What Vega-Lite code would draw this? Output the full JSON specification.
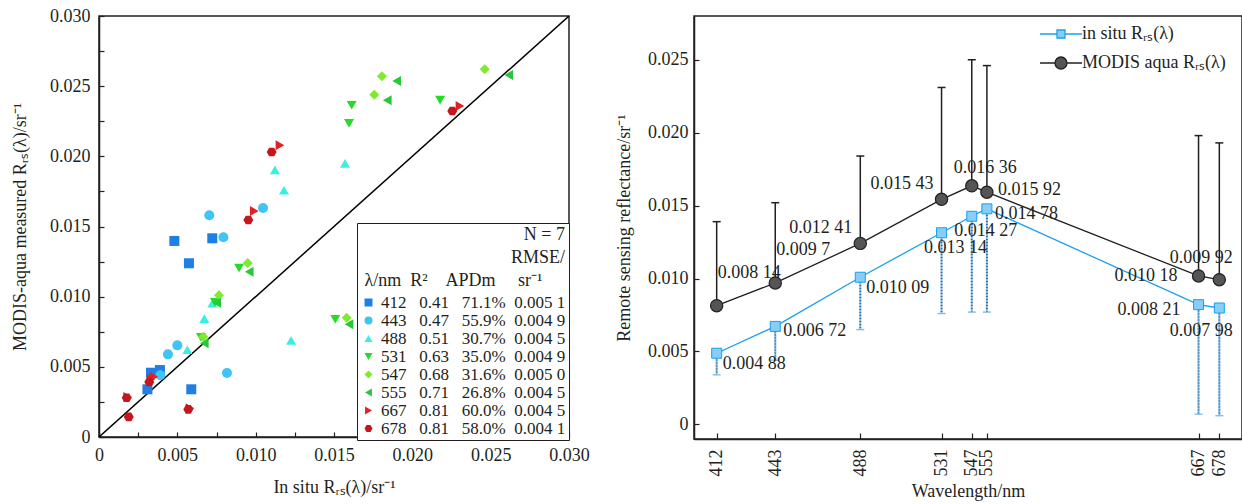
{
  "$schema": "https://vega.github.io/schema/vega-lite/v6.json",
  "background": "white",
  "padding": {"left": 10, "top": 6, "right": 0, "bottom": 0},
  "bounds": "flush",
  "spacing": 125,
  "resolve": {
    "scale": {"color": "independent", "shape": "independent", "fill": "independent", "stroke": "independent"},
    "legend": {"color": "independent", "shape": "independent", "fill": "independent", "stroke": "independent"}
  },
  "config": {
    "font": "Liberation Serif",
    "view": {"stroke": "#231f20", "strokeWidth": 1.5},
    "axis": {"labelFontSize": 18, "titleFontSize": 18, "labelColor": "#231f20", "titleColor": "#231f20", "domainColor": "#231f20", "tickColor": "#231f20", "domainWidth": 1.5, "tickWidth": 1.2, "grid": false, "labelFlush": false, "labelOverlap": false, "titleFontWeight": "normal", "labelFont": "Liberation Serif", "titleFont": "Liberation Serif"},
    "legend": {"labelFont": "Liberation Serif", "titleFont": "Liberation Serif", "labelColor": "#231f20", "titleColor": "#231f20", "titleFontWeight": "normal", "labelLimit": 400, "titleLimit": 400},
    "text": {"font": "Liberation Serif", "fontSize": 18, "color": "#231f20"}
  },
  "hconcat": [
    {
      "width": 470,
      "height": 421,
      "encoding": {
        "x": {"field": "x", "type": "quantitative", "title": "In situ Rᵣₛ(λ)/sr⁻¹",
          "scale": {"domain": [0, 0.03], "nice": false, "zero": false},
          "axis": {"values": [0, 0.0025, 0.005, 0.0075, 0.01, 0.0125, 0.015, 0.0175, 0.02, 0.0225, 0.025, 0.0275, 0.03],
            "labelExpr": "datum.value == 0 ? '0' : (abs(round(datum.value*10000) % 50) < 1 ? format(datum.value, '.3f') : '')",
            "tickSize": -5, "labelPadding": 14, "titlePadding": 14}},
        "y": {"field": "y", "type": "quantitative", "title": "MODIS-aqua measured Rᵣₛ(λ)/sr⁻¹",
          "scale": {"domain": [0, 0.03], "nice": false, "zero": false},
          "axis": {"values": [0, 0.0025, 0.005, 0.0075, 0.01, 0.0125, 0.015, 0.0175, 0.02, 0.0225, 0.025, 0.0275, 0.03],
            "labelExpr": "datum.value == 0 ? '0' : (abs(round(datum.value*10000) % 50) < 1 ? format(datum.value, '.3f') : '')",
            "tickSize": -5, "labelPadding": 14, "titlePadding": 20}}
      },
      "layer": [
        {
          "data": {"values": [{"x": 0, "y": 0}, {"x": 0.03, "y": 0.03}]},
          "mark": {"type": "line", "color": "#000000", "strokeWidth": 1.5, "clip": true}
        },
        {
          "data": {"values": [
            {"band": "412", "x": 0.00481, "y": 0.01397}, {"band": "412", "x": 0.00723, "y": 0.01416}, {"band": "412", "x": 0.00574, "y": 0.01238}, {"band": "412", "x": 0.00389, "y": 0.00477}, {"band": "412", "x": 0.00332, "y": 0.00458}, {"band": "412", "x": 0.00309, "y": 0.0034}, {"band": "412", "x": 0.00589, "y": 0.0034},
            {"band": "443", "x": 0.00704, "y": 0.0158}, {"band": "443", "x": 0.01047, "y": 0.01632}, {"band": "443", "x": 0.00794, "y": 0.01423}, {"band": "443", "x": 0.005, "y": 0.00653}, {"band": "443", "x": 0.0044, "y": 0.00589}, {"band": "443", "x": 0.00391, "y": 0.0044}, {"band": "443", "x": 0.00817, "y": 0.00456},
            {"band": "488", "x": 0.01123, "y": 0.01903}, {"band": "488", "x": 0.01181, "y": 0.01758}, {"band": "488", "x": 0.0157, "y": 0.0195}, {"band": "488", "x": 0.00723, "y": 0.00953}, {"band": "488", "x": 0.00672, "y": 0.00843}, {"band": "488", "x": 0.00564, "y": 0.00622}, {"band": "488", "x": 0.01226, "y": 0.00689},
            {"band": "531", "x": 0.01613, "y": 0.02364}, {"band": "531", "x": 0.01596, "y": 0.02235}, {"band": "531", "x": 0.02177, "y": 0.02401}, {"band": "531", "x": 0.00894, "y": 0.01204}, {"band": "531", "x": 0.01508, "y": 0.00839}, {"band": "531", "x": 0.00651, "y": 0.0071}, {"band": "531", "x": 0.0074, "y": 0.0096},
            {"band": "547", "x": 0.01806, "y": 0.0257}, {"band": "547", "x": 0.01757, "y": 0.02439}, {"band": "547", "x": 0.02462, "y": 0.0262}, {"band": "547", "x": 0.00949, "y": 0.0124}, {"band": "547", "x": 0.00766, "y": 0.0101}, {"band": "547", "x": 0.01581, "y": 0.0085}, {"band": "547", "x": 0.00666, "y": 0.00715},
            {"band": "555", "x": 0.019, "y": 0.02537}, {"band": "555", "x": 0.0184, "y": 0.024}, {"band": "555", "x": 0.02615, "y": 0.0258}, {"band": "555", "x": 0.00959, "y": 0.01178}, {"band": "555", "x": 0.00751, "y": 0.00957}, {"band": "555", "x": 0.01596, "y": 0.00803}, {"band": "555", "x": 0.00672, "y": 0.00668},
            {"band": "667", "x": 0.01155, "y": 0.02079}, {"band": "667", "x": 0.00991, "y": 0.0161}, {"band": "667", "x": 0.02304, "y": 0.02359}, {"band": "667", "x": 0.00183, "y": 0.00285}, {"band": "667", "x": 0.00332, "y": 0.00411}, {"band": "667", "x": 0.00581, "y": 0.00204}, {"band": "667", "x": 0.0035, "y": 0.0043},
            {"band": "678", "x": 0.01102, "y": 0.02031}, {"band": "678", "x": 0.00953, "y": 0.01546}, {"band": "678", "x": 0.02255, "y": 0.02323}, {"band": "678", "x": 0.00177, "y": 0.0028}, {"band": "678", "x": 0.0019, "y": 0.00143}, {"band": "678", "x": 0.00321, "y": 0.00392}, {"band": "678", "x": 0.0057, "y": 0.00197}
          ]},
          "mark": {"type": "point", "filled": true, "size": 100, "opacity": 1},
          "encoding": {
            "color": {"field": "band", "type": "nominal",
              "scale": {"domain": ["412", "443", "488", "531", "547", "555", "667", "678"], "range": ["#1f7fe6", "#3ec4f5", "#3aefe2", "#22dd22", "#80ea2c", "#25c93a", "#e62020", "#c4161c"]},
              "legend": {"orient": "none", "legendX": 258, "legendY": 207,
                "title": ["N = 7", "RMSE/", "λ/nm\u00a0\u00a0R²\u00a0\u00a0\u00a0\u00a0APDm\u00a0\u00a0\u00a0\u00a0\u00a0sr⁻¹\u00a0\u00a0\u00a0\u00a0\u00a0\u200b"],
                "titleAlign": "right", "titleAnchor": "end", "titleFontSize": 18, "titleLineHeight": 23, "titlePadding": 4,
                "labelFontSize": 17, "symbolSize": 64, "rowPadding": 0, "padding": 3, "labelOffset": 4,
                "strokeColor": "#231f20", "fillColor": "white",
                "labelExpr": "['412\u00a0\u00a0\u00a00.41\u00a0\u00a0\u00a071.1%\u00a0\u00a00.005\u00a01','443\u00a0\u00a0\u00a00.47\u00a0\u00a0\u00a055.9%\u00a0\u00a00.004\u00a09','488\u00a0\u00a0\u00a00.51\u00a0\u00a0\u00a030.7%\u00a0\u00a00.004\u00a05','531\u00a0\u00a0\u00a00.63\u00a0\u00a0\u00a035.0%\u00a0\u00a00.004\u00a09','547\u00a0\u00a0\u00a00.68\u00a0\u00a0\u00a031.6%\u00a0\u00a00.005\u00a00','555\u00a0\u00a0\u00a00.71\u00a0\u00a0\u00a026.8%\u00a0\u00a00.004\u00a05','667\u00a0\u00a0\u00a00.81\u00a0\u00a0\u00a060.0%\u00a0\u00a00.004\u00a05','678\u00a0\u00a0\u00a00.81\u00a0\u00a0\u00a058.0%\u00a0\u00a00.004\u00a01'][indexof(['412','443','488','531','547','555','667','678'], datum.label)]"}},
            "shape": {"field": "band", "type": "nominal",
              "scale": {"domain": ["412", "443", "488", "531", "547", "555", "667", "678"], "range": ["square", "circle", "triangle-up", "triangle-down", "diamond", "triangle-left", "triangle-right", "M-1,0L-0.5,-0.866L0.5,-0.866L1,0L0.5,0.866L-0.5,0.866Z"]}}
          }
        },
        {
          "data": {"values": [{}]},
          "mark": {"type": "text", "text": "a", "align": "left", "baseline": "middle", "fontSize": 18},
          "encoding": {"x": {"datum": 0.0011}, "y": {"datum": 0.0274}}
        },
        {
          "data": {"values": [{}]},
          "mark": {"type": "text", "text": "1:1 line", "align": "center", "baseline": "middle", "fontSize": 18},
          "encoding": {"x": {"datum": 0.027}, "y": {"datum": 0.0239}}
        }
      ]
    },
    {
      "width": 548,
      "height": 423,
      "data": {"values": [
        {"wl": 412, "insitu": 0.00488, "insituLo": 0.0034, "modis": 0.00814, "modisHi": 0.0139},
        {"wl": 443, "insitu": 0.00672, "insituLo": 0.0044, "modis": 0.0097, "modisHi": 0.0152},
        {"wl": 488, "insitu": 0.01009, "insituLo": 0.0065, "modis": 0.01241, "modisHi": 0.0184},
        {"wl": 531, "insitu": 0.01314, "insituLo": 0.0076, "modis": 0.01543, "modisHi": 0.0231},
        {"wl": 547, "insitu": 0.01427, "insituLo": 0.0077, "modis": 0.01636, "modisHi": 0.025},
        {"wl": 555, "insitu": 0.01478, "insituLo": 0.0077, "modis": 0.01592, "modisHi": 0.0246},
        {"wl": 667, "insitu": 0.00821, "insituLo": 0.0007, "modis": 0.01018, "modisHi": 0.0198},
        {"wl": 678, "insitu": 0.00798, "insituLo": 0.0006, "modis": 0.00992, "modisHi": 0.0193}
      ]},
      "transform": [
        {"calculate": "substring(format(datum.modis,'.5~f'),0,5) + ' ' + substring(format(datum.modis,'.5~f'),5)", "as": "mLab"},
        {"calculate": "substring(format(datum.insitu,'.5~f'),0,5) + ' ' + substring(format(datum.insitu,'.5~f'),5)", "as": "iLab"}
      ],
      "encoding": {
        "x": {"field": "wl", "type": "quantitative", "title": "Wavelength/nm",
          "scale": {"domain": [400, 690], "nice": false, "zero": false},
          "axis": {"values": [412, 443, 488, 531, 547, 555, 667, 678], "labelAngle": -90, "tickSize": -6, "labelPadding": 16, "titlePadding": 6}}
      },
      "layer": [
        {
          "mark": {"type": "rule", "color": "#231f20", "strokeWidth": 1.5},
          "encoding": {
            "y": {"field": "modis", "type": "quantitative", "title": "Remote sensing reflectance/sr⁻¹",
              "scale": {"domain": [-0.001, 0.028], "nice": false, "zero": false},
              "axis": {"values": [0, 0.005, 0.01, 0.015, 0.02, 0.025], "labelExpr": "datum.value == 0 ? '0' : format(datum.value, '.3f')", "tickSize": -5, "labelPadding": 11, "titlePadding": 14}},
            "y2": {"field": "modisHi"}
          }
        },
        {
          "mark": {"type": "point", "shape": "stroke", "size": 64, "color": "#231f20", "strokeWidth": 1.5, "opacity": 1},
          "encoding": {"y": {"field": "modisHi", "type": "quantitative", "title": "Remote sensing reflectance/sr⁻¹"}}
        },
        {
          "mark": {"type": "rule", "color": "#1f6fb0", "strokeWidth": 2, "strokeDash": [1, 0.5]},
          "encoding": {
            "y": {"field": "insituLo", "type": "quantitative", "title": "Remote sensing reflectance/sr⁻¹"},
            "y2": {"field": "insitu"}
          }
        },
        {
          "mark": {"type": "point", "shape": "stroke", "size": 64, "color": "#86c0e8", "strokeWidth": 1.5, "opacity": 1},
          "encoding": {"y": {"field": "insituLo", "type": "quantitative", "title": "Remote sensing reflectance/sr⁻¹"}}
        },
        {
          "mark": {"type": "line", "color": "#1a9ff0", "strokeWidth": 1.3},
          "encoding": {"y": {"field": "insitu", "type": "quantitative", "title": "Remote sensing reflectance/sr⁻¹"}}
        },
        {
          "mark": {"type": "line", "color": "#231f20", "strokeWidth": 1.3},
          "encoding": {"y": {"field": "modis", "type": "quantitative", "title": "Remote sensing reflectance/sr⁻¹"}}
        },
        {
          "mark": {"type": "point", "shape": "square", "filled": true, "size": 100, "fill": "#86cef5", "stroke": "#1a9ff0", "strokeWidth": 1, "opacity": 1},
          "encoding": {"y": {"field": "insitu", "type": "quantitative", "title": "Remote sensing reflectance/sr⁻¹"}}
        },
        {
          "mark": {"type": "point", "shape": "circle", "filled": true, "size": 150, "fill": "#555555", "stroke": "#231f20", "strokeWidth": 1.2, "opacity": 1},
          "encoding": {"y": {"field": "modis", "type": "quantitative", "title": "Remote sensing reflectance/sr⁻¹"}}
        },
        {
          "transform": [{"filter": {"field": "wl", "oneOf": [412, 443]}}],
          "mark": {"type": "text", "align": "left", "baseline": "middle", "dx": 1, "dy": -33},
          "encoding": {"y": {"field": "modis", "type": "quantitative", "title": "Remote sensing reflectance/sr⁻¹"}, "text": {"field": "mLab"}}
        },
        {
          "transform": [{"filter": {"field": "wl", "oneOf": [488, 531]}}],
          "mark": {"type": "text", "align": "right", "baseline": "middle", "dx": -8, "dy": -15},
          "encoding": {"y": {"field": "modis", "type": "quantitative", "title": "Remote sensing reflectance/sr⁻¹"}, "text": {"field": "mLab"}}
        },
        {
          "transform": [{"filter": {"field": "wl", "oneOf": [547]}}],
          "mark": {"type": "text", "align": "left", "baseline": "middle", "dx": -18, "dy": -18},
          "encoding": {"y": {"field": "modis", "type": "quantitative", "title": "Remote sensing reflectance/sr⁻¹"}, "text": {"field": "mLab"}}
        },
        {
          "transform": [{"filter": {"field": "wl", "oneOf": [555]}}],
          "mark": {"type": "text", "align": "left", "baseline": "middle", "dx": 11, "dy": -2},
          "encoding": {"y": {"field": "modis", "type": "quantitative", "title": "Remote sensing reflectance/sr⁻¹"}, "text": {"field": "mLab"}}
        },
        {
          "transform": [{"filter": {"field": "wl", "oneOf": [667]}}],
          "mark": {"type": "text", "align": "right", "baseline": "middle", "dx": -21, "dy": 0},
          "encoding": {"y": {"field": "modis", "type": "quantitative", "title": "Remote sensing reflectance/sr⁻¹"}, "text": {"field": "mLab"}}
        },
        {
          "transform": [{"filter": {"field": "wl", "oneOf": [678]}}],
          "mark": {"type": "text", "align": "center", "baseline": "middle", "dx": -18, "dy": -22},
          "encoding": {"y": {"field": "modis", "type": "quantitative", "title": "Remote sensing reflectance/sr⁻¹"}, "text": {"field": "mLab"}}
        },
        {
          "transform": [{"filter": {"field": "wl", "oneOf": [412, 488]}}],
          "mark": {"type": "text", "align": "left", "baseline": "middle", "dx": 6, "dy": 11},
          "encoding": {"y": {"field": "insitu", "type": "quantitative", "title": "Remote sensing reflectance/sr⁻¹"}, "text": {"field": "iLab"}}
        },
        {
          "transform": [{"filter": {"field": "wl", "oneOf": [443, 555]}}],
          "mark": {"type": "text", "align": "left", "baseline": "middle", "dx": 8, "dy": 5},
          "encoding": {"y": {"field": "insitu", "type": "quantitative", "title": "Remote sensing reflectance/sr⁻¹"}, "text": {"field": "iLab"}}
        },
        {
          "transform": [{"filter": {"field": "wl", "oneOf": [531, 547]}}],
          "mark": {"type": "text", "align": "center", "baseline": "middle", "dx": 14, "dy": 15},
          "encoding": {"y": {"field": "insitu", "type": "quantitative", "title": "Remote sensing reflectance/sr⁻¹"}, "text": {"field": "iLab"}}
        },
        {
          "transform": [{"filter": {"field": "wl", "oneOf": [667]}}],
          "mark": {"type": "text", "align": "right", "baseline": "middle", "dx": -18, "dy": 5},
          "encoding": {"y": {"field": "insitu", "type": "quantitative", "title": "Remote sensing reflectance/sr⁻¹"}, "text": {"field": "iLab"}}
        },
        {
          "transform": [{"filter": {"field": "wl", "oneOf": [678]}}],
          "mark": {"type": "text", "align": "center", "baseline": "middle", "dx": -18, "dy": 23},
          "encoding": {"y": {"field": "insitu", "type": "quantitative", "title": "Remote sensing reflectance/sr⁻¹"}, "text": {"field": "iLab"}}
        },
        {
          "data": {"values": [{"s": "in situ Rᵣₛ(λ)"}, {"s": "MODIS aqua Rᵣₛ(λ)"}]},
          "mark": {"type": "point", "filled": true, "clip": true},
          "encoding": {
            "x": {"datum": 1000},
            "y": {"datum": 0.01},
            "shape": {"field": "s", "type": "nominal",
              "scale": {"domain": ["in situ Rᵣₛ(λ)", "MODIS aqua Rᵣₛ(λ)"], "range": ["M-5.25,0H-1M1,0H5.25M-1,-1H1V1H-1Z", "M-5.25,0H-1.5M1.5,0H5.25M-1.5,0A1.5,1.5,0,1,0,1.5,0A1.5,1.5,0,1,0,-1.5,0Z"]},
              "legend": {"orient": "none", "legendX": 358, "legendY": 9, "title": null, "symbolSize": 64, "symbolStrokeWidth": 1.3, "symbolOpacity": 1, "labelOffset": 12, "rowPadding": 11, "labelFontSize": 18, "padding": 0}},
            "fill": {"field": "s", "type": "nominal", "scale": {"domain": ["in situ Rᵣₛ(λ)", "MODIS aqua Rᵣₛ(λ)"], "range": ["#86cef5", "#555555"]}},
            "stroke": {"field": "s", "type": "nominal", "scale": {"domain": ["in situ Rᵣₛ(λ)", "MODIS aqua Rᵣₛ(λ)"], "range": ["#1a9ff0", "#231f20"]}}
          }
        }
      ]
    }
  ]
}
